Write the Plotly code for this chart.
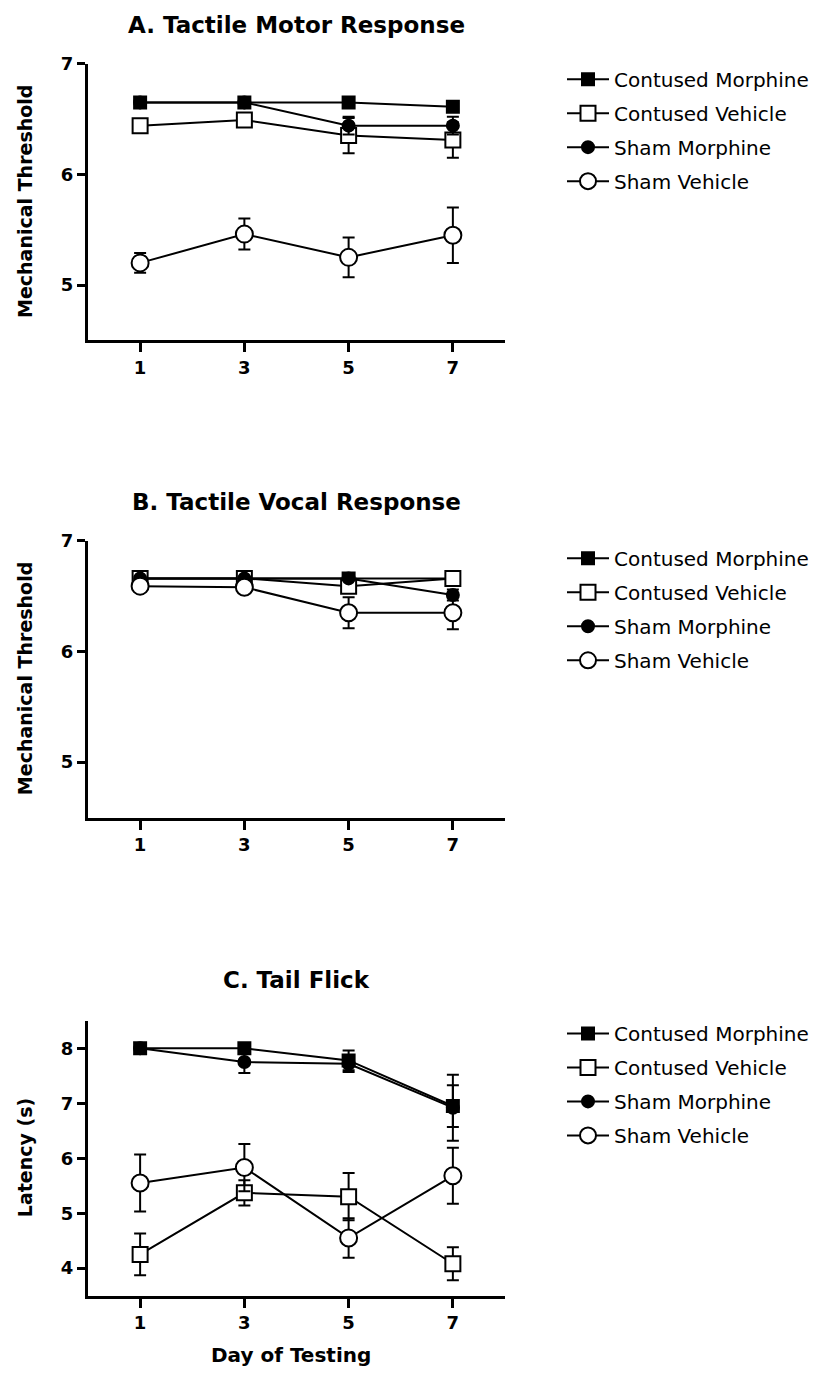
import plotly.graph_objects as go

days = [1, 3, 5, 7]
series_names = ["Contused Morphine", "Contused Vehicle", "Sham Morphine", "Sham Vehicle"]

# Panel A: Tactile Motor Response
a_cm = [6.65, 6.65, 6.65, 6.61]
a_cm_err = [0.0, 0.0, 0.0, 0.02]
a_cv = [6.44, 6.49, 6.35, 6.31]
a_cv_err = [0.03, 0.04, 0.16, 0.16]
a_sm = [6.65, 6.65, 6.44, 6.44]
a_sm_err = [0.0, 0.0, 0.08, 0.08]
a_sv = [5.20, 5.46, 5.25, 5.45]
a_sv_err = [0.09, 0.14, 0.18, 0.25]

# Panel B: Tactile Vocal Response
b_cm = [6.66, 6.66, 6.66, 6.66]
b_cm_err = [0.0, 0.0, 0.0, 0.0]
b_cv = [6.66, 6.66, 6.59, 6.66]
b_cv_err = [0.0, 0.0, 0.04, 0.0]
b_sm = [6.66, 6.66, 6.66, 6.51]
b_sm_err = [0.0, 0.0, 0.0, 0.05]
b_sv = [6.59, 6.58, 6.35, 6.35]
b_sv_err = [0.02, 0.02, 0.14, 0.15]

# Panel C: Tail Flick
c_cm = [8.0, 8.0, 7.78, 6.95]
c_cm_err = [0.02, 0.03, 0.18, 0.38]
c_cv = [4.25, 5.37, 5.30, 4.08]
c_cv_err = [0.38, 0.23, 0.43, 0.30]
c_sm = [8.0, 7.75, 7.72, 6.92]
c_sm_err = [0.02, 0.20, 0.15, 0.60]
c_sv = [5.55, 5.83, 4.55, 5.68]
c_sv_err = [0.52, 0.43, 0.36, 0.51]

panel_titles = ["A. Tactile Motor Response", "B. Tactile Vocal Response", "C. Tail Flick"]
y_titles = ["Mechanical Threshold", "Mechanical Threshold", "Latency (s)"]
x_title = "Day of Testing"
x_ticks = [1, 3, 5, 7]
y_ticks_ab = [5, 6, 7]
y_ticks_c = [4, 5, 6, 7, 8]

panels = [
    [(a_cm, a_cm_err), (a_cv, a_cv_err), (a_sm, a_sm_err), (a_sv, a_sv_err)],
    [(b_cm, b_cm_err), (b_cv, b_cv_err), (b_sm, b_sm_err), (b_sv, b_sv_err)],
    [(c_cm, c_cm_err), (c_cv, c_cv_err), (c_sm, c_sm_err), (c_sv, c_sv_err)],
]

# page offset of the plot div inside the html page
OX, OY = 8, 17
W, H = 806, 1363
FONT = "DejaVu Sans, Liberation Sans, Arial, sans-serif"

# target pixel geometry (page coordinates)
x0_px, x1_px = 88, 505
panel_px = [(62, 341), (543, 822), (1027, 1304)]
y_ranges = [[4.5, 7.0], [4.5, 7.0], [3.5, 8.5]]
title_y_px = [23, 504, 986]
legend_top_px = [58, 541, 1020]

styles = [
    dict(symbol="square", color="black", size=12),
    dict(symbol="square", color="white", size=15),
    dict(symbol="circle", color="black", size=12),
    dict(symbol="circle", color="white", size=17),
]


def px_x(p):
    return (p - OX) / W


def px_y(p):
    return 1 - (p - OY) / H


fig = go.Figure()
layout = dict(
    width=W, height=H, margin=dict(l=0, r=0, t=0, b=0),
    paper_bgcolor="white", plot_bgcolor="white",
    font=dict(family=FONT, color="black"),
    showlegend=True,
)
annotations = []

for i, series in enumerate(panels):
    sfx = "" if i == 0 else str(i + 1)
    leg = "legend" if i == 0 else f"legend{i + 1}"
    top, bot = panel_px[i]
    for j, (vals, errs) in enumerate(series):
        st = styles[j]
        fig.add_trace(go.Scatter(
            x=days, y=vals, mode="lines+markers", name=series_names[j],
            xaxis="x" + sfx, yaxis="y" + sfx, legend=leg,
            legendgroup=f"g{i}_{j}",
            line=dict(color="black", width=2),
            marker=dict(symbol=st["symbol"], size=st["size"], color=st["color"],
                        line=dict(color="black", width=2)),
            error_y=dict(type="data", array=errs, visible=True,
                         color="black", thickness=2, width=6),
        ))
    layout["xaxis" + sfx] = dict(
        domain=[px_x(x0_px), px_x(x1_px)], range=[0, 8],
        anchor="y" + sfx, tickvals=x_ticks, ticktext=[str(t) for t in x_ticks],
        showgrid=False, zeroline=False, showline=True, linecolor="black", linewidth=3,
        ticks="outside", ticklen=9, tickwidth=3, tickcolor="black",
        tickfont=dict(size=18, family=FONT, weight="bold", color="black"),
        fixedrange=True,
    )
    yt = y_ticks_c if i == 2 else y_ticks_ab
    layout["yaxis" + sfx] = dict(
        domain=[px_y(bot), px_y(top)], range=y_ranges[i],
        anchor="x" + sfx, tickvals=yt, ticktext=[str(t) for t in yt],
        showgrid=False, zeroline=False, showline=True, linecolor="black", linewidth=3,
        ticks="outside", ticklen=8, tickwidth=3, tickcolor="black",
        tickfont=dict(size=18, family=FONT, weight="bold", color="black"),
        fixedrange=True,
    )
    layout[leg] = dict(
        x=px_x(562), y=px_y(legend_top_px[i]), xanchor="left", yanchor="top",
        font=dict(size=20, family=FONT, color="black"),
        bgcolor="rgba(0,0,0,0)", traceorder="grouped", tracegroupgap=5,
        itemwidth=42, itemclick=False, itemdoubleclick=False,
    )
    annotations.append(dict(
        text=f"<b>{panel_titles[i]}</b>", x=px_x((x0_px + x1_px) / 2), y=px_y(title_y_px[i]),
        xref="paper", yref="paper", showarrow=False, xanchor="center", yanchor="middle",
        font=dict(size=23, family=FONT, color="black"),
    ))
    annotations.append(dict(
        text=f"<b>{y_titles[i]}</b>", x=px_x(25), y=px_y((top + bot) / 2),
        xref="paper", yref="paper", showarrow=False, xanchor="center", yanchor="middle",
        textangle=-90, font=dict(size=19, family=FONT, color="black"),
    ))

annotations.append(dict(
    text=f"<b>{x_title}</b>", x=px_x(291), y=px_y(1364),
    xref="paper", yref="paper", showarrow=False, xanchor="center", yanchor="middle",
    font=dict(size=20, family=FONT, color="black"),
))
layout["annotations"] = annotations
fig.update_layout(**layout)
fig.write_html("out.html")
